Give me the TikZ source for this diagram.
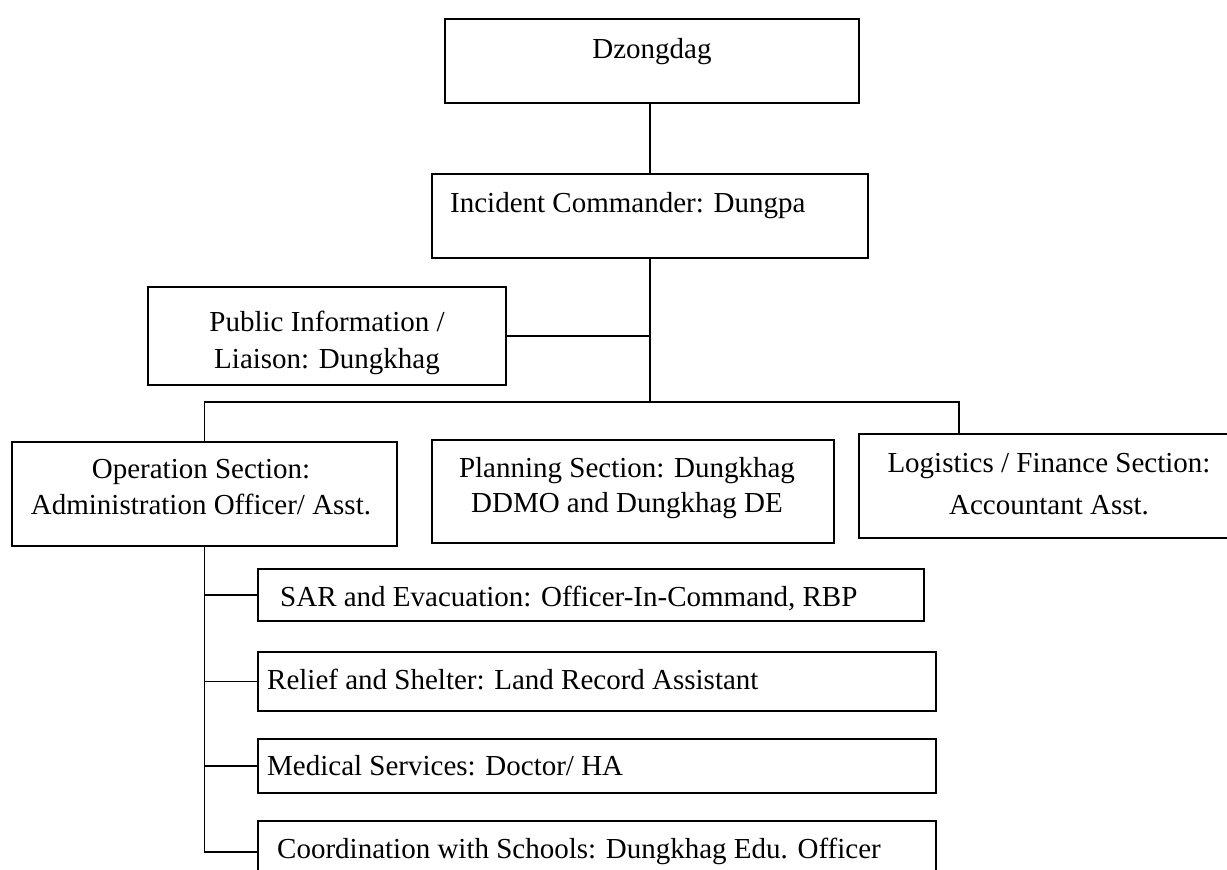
\documentclass[tikz,border=0pt]{standalone}
\usepackage{fontspec}
\setmainfont{Liberation Serif}
\begin{document}
\begin{tikzpicture}[x=1pt,y=-1pt,
  box/.style={draw, line width=1.4pt, rectangle, inner sep=0pt},
  txt/.style={font=\fontsize{29}{37}\selectfont, inner sep=0pt, anchor=base},
  txtl/.style={txt, anchor=base west},
  conn/.style={line width=1.4pt}]
\useasboundingbox (0,0) rectangle (1227,870);
\clip (0,0) rectangle (1227,870);
% boxes
\node[box, minimum width=414pt, minimum height=84pt]  (dz)  at (652,61)    {};
\node[box, minimum width=436pt, minimum height=84pt]  (ic)  at (650,216)   {};
\node[box, minimum width=358pt, minimum height=98pt]  (pi)  at (327,336)   {};
\node[box, minimum width=385pt, minimum height=104pt] (op)  at (204.5,494) {};
\node[box, minimum width=402pt, minimum height=103pt] (pl)  at (633,491.5) {};
\node[box, minimum width=401pt, minimum height=104pt] (lg)  at (1059.5,486) {};
\node[box, minimum width=666pt, minimum height=52pt]  (sar) at (591,595)   {};
\node[box, minimum width=678pt, minimum height=59pt]  (rel) at (597,681.5) {};
\node[box, minimum width=678pt, minimum height=54pt]  (med) at (597,766)   {};
\node[box, minimum width=678pt, minimum height=62pt]  (cs)  at (597,852)   {};
% texts
\node[txt]  (dzt)  at (652,58)  {Dzongdag};
\node[txtl] (ict)  at (450,212) {Incident Commander: Dungpa};
\node[txt]  (pit1) at (327,331) {Public Information /};
\node[txt]  (pit2) at (327,368) {Liaison: Dungkhag};
\node[txt]  (opt1) at (201,478) {Operation Section:};
\node[txt]  (opt2) at (201,514) {Administration Officer/ Asst.};
\node[txt]  (plt1) at (627,477) {Planning Section: Dungkhag};
\node[txt]  (plt2) at (627,512) {DDMO and Dungkhag DE};
\node[txt]  (lgt1) at (1049,472) {Logistics / Finance Section:};
\node[txt]  (lgt2) at (1049,514) {Accountant Asst.};
\node[txtl] (sart) at (280,606) {SAR and Evacuation: Officer-In-Command, RBP};
\node[txtl] (relt) at (267,689) {Relief and Shelter: Land Record Assistant};
\node[txtl] (medt) at (267,775) {Medical Services: Doctor/ HA};
\node[txtl] (cst)  at (277,858) {Coordination with Schools: Dungkhag Edu. Officer};
% connectors
\coordinate (hub) at (650,402);
\coordinate (lgdrop) at (959,402);
\draw[conn] (ic.north |- dz.south) -- (ic.north);
\draw[conn] (ic.south) -- (hub);
\draw[conn] (pi.east) -- (pi.east -| hub);
\draw[conn] (op.north) -- (op.north |- hub) -- (lgdrop) -- (lgdrop |- lg.north);
\draw[conn] (op.south) -- (op.south |- cs.west) -- (cs.west);
\draw[conn] (op.south |- sar.west) -- (sar.west);
\draw[conn] (op.south |- rel.west) -- (rel.west);
\draw[conn] (op.south |- med.west) -- (med.west);
\end{tikzpicture}
\end{document}
